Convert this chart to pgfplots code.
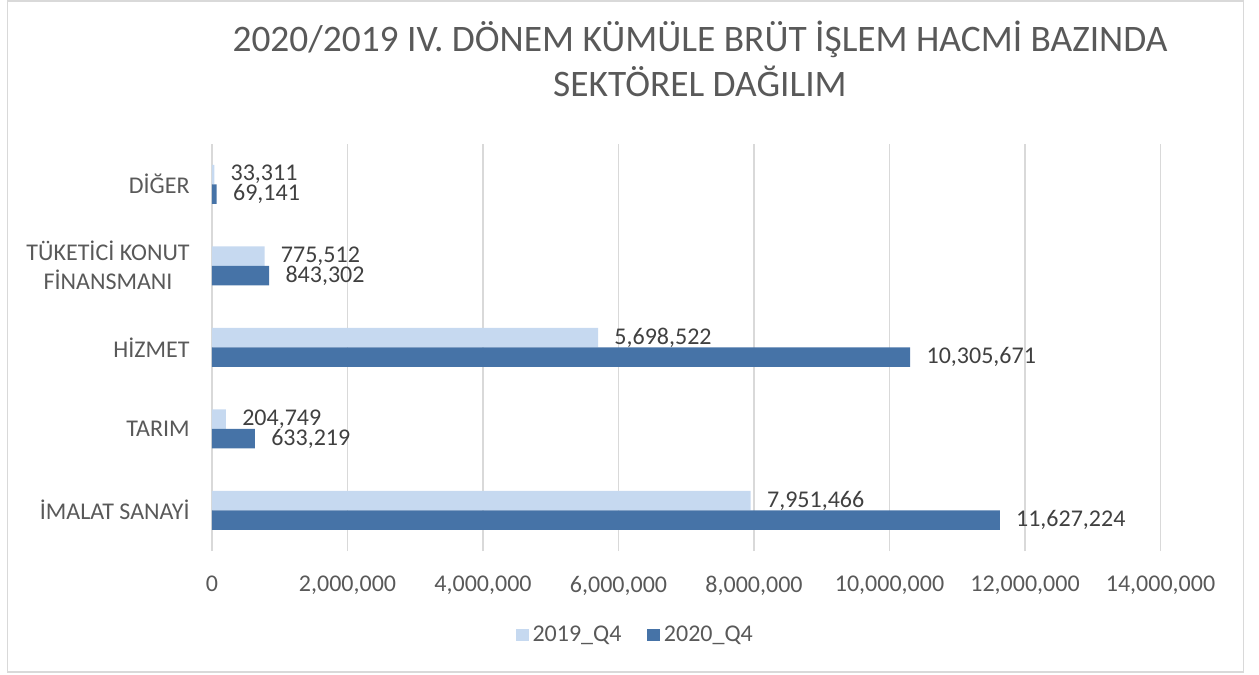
\documentclass[border=0pt]{standalone}
\usepackage{pgfplots}
\usepackage{pgfplotstable}
\pgfplotsset{compat=1.18}
\usepackage{fontspec}
\setmainfont{Carlito}
\definecolor{lightbar}{HTML}{C6D9F0}
\definecolor{darkbar}{HTML}{4673A7}
\definecolor{gridc}{HTML}{D9D9D9}
\definecolor{labc}{HTML}{595959}
\definecolor{datac}{HTML}{404040}

\pgfplotstableread{
y v19 l19 v20 l20
0 7951466 7,951,466 11627224 11,627,224
1 204749 204,749 633219 633,219
2 5698522 5,698,522 10305671 10,305,671
3 775512 775,512 843302 843,302
4 33311 33,311 69141 69,141
}\data

\begin{document}
\begin{tikzpicture}
\useasboundingbox (0,0) rectangle (629.5pt,-337.5pt);
\draw[gridc, line width=0.75pt] (3.75pt,-0.5pt) rectangle (621.75pt,-336pt);
\node[anchor=base, font=\fontsize{18.7}{22}\selectfont, text=labc, inner sep=0pt] at (350pt,-25.5pt) {2020/2019 IV. DÖNEM KÜMÜLE BRÜT İŞLEM HACMİ BAZINDA};
\node[anchor=base, font=\fontsize{18.7}{22}\selectfont, text=labc, inner sep=0pt] at (350pt,-48pt) {SEKTÖREL DAĞILIM};
\begin{axis}[
  at={(106pt,-275.5pt)}, anchor=south west,
  scale only axis,
  width=474.25pt, height=203.75pt,
  xbar, bar width=9.75pt,
  xmin=0, xmax=14000000,
  ymin=-0.5, ymax=4.5,
  clip=false,
  axis line style={draw=none},
  major tick length=0pt,
  xmajorgrids, ymajorgrids=false,
  grid style={gridc, line width=0.75pt},
  xtick={0,2000000,4000000,6000000,8000000,10000000,12000000,14000000},
  xticklabels={0,{2,000,000},{4,000,000},{6,000,000},{8,000,000},{10,000,000},{12,000,000},{14,000,000}},
  scaled x ticks=false,
  ytick={0,1,2,3,4},
  yticklabels={İMALAT SANAYİ, TARIM, HİZMET, {TÜKETİCİ KONUT\\FİNANSMANI}, DİĞER},
  xticklabel style={font=\fontsize{12}{14.5}\selectfont, text=labc, inner sep=0pt, anchor=north, yshift=-12.5pt},
  yticklabel style={font=\fontsize{12}{14.5}\selectfont, text=labc, inner sep=0pt, anchor=east, xshift=-11pt, align=center},
  nodes near coords={\pgfplotspointmeta},
  point meta=explicit symbolic,
  nodes near coords style={font=\fontsize{12}{14.5}\selectfont, text=datac, anchor=west, inner sep=0pt, xshift=8pt},
  legend style={at={(0.4475,-0.206)}, anchor=center, draw=none, fill=none,
    font=\fontsize{12}{14.5}\selectfont, text=labc, legend columns=2,
    /tikz/every even column/.append style={column sep=11pt}},
  legend image code/.code={\path[#1, draw=none] (0pt,-3.125pt) rectangle (6.25pt,3.125pt);},
]
\addplot[fill=lightbar, draw=none, bar shift=4.875pt] table[x=v19, y=y, meta=l19] {\data};
\addplot[fill=darkbar, draw=none, bar shift=-4.875pt] table[x=v20, y=y, meta=l20] {\data};
\legend{2019\_Q4, 2020\_Q4}
\end{axis}
\end{tikzpicture}
\end{document}
